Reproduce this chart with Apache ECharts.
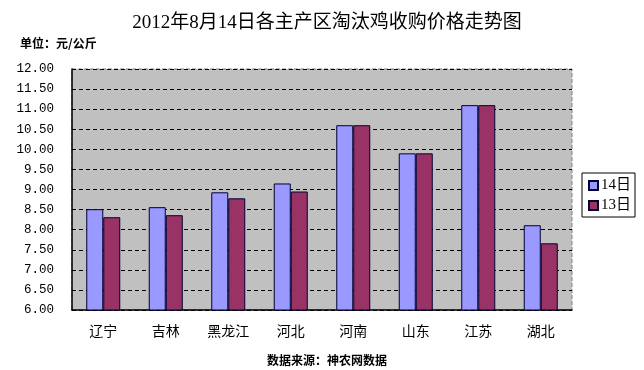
<!DOCTYPE html>
<html>
<head>
<meta charset="utf-8">
<script src="https://cdn.jsdelivr.net/npm/echarts@6/dist/echarts.min.js"></script>
<style>
html,body{margin:0;padding:0;background:#fff;}
#c{width:644px;height:370px;}
</style>
</head>
<body>
<div id="c"></div>
<script>
var categories = ['辽宁','吉林','黑龙江','河北','河南','山东','江苏','湖北'];
var seriesNames = ['14日','13日'];
var values14 = [8.51, 8.56, 8.93, 9.15, 10.60, 9.90, 11.10, 8.11];
var values13 = [8.31, 8.36, 8.78, 8.95, 10.60, 9.90, 11.10, 7.66];
var titleText = '2012年8月14日各主产区淘汰鸡收购价格走势图';
var unitText = '单位：元/公斤';
var sourceText = '数据来源：神农网数据';

var chart = echarts.init(document.getElementById('c'), null, {renderer:'canvas'});
var cjk = '"Noto Sans CJK SC", sans-serif';
chart.setOption({
  animation: false,
  backgroundColor: '#fff',
  title: [
    {text: titleText, left: 322, textAlign: 'center', top: 9,
     textStyle: {fontSize: 19, fontWeight: 'normal', color: '#000',
       fontFamily: '"Liberation Serif", "Noto Sans CJK SC", serif'}},
    {text: unitText, left: 15, top: 32,
     textStyle: {fontSize: 12, fontWeight: 'bold', color: '#000', fontFamily: cjk}},
    {text: sourceText, left: 322, textAlign: 'center', top: 349,
     textStyle: {fontSize: 12, fontWeight: 'bold', color: '#000', fontFamily: cjk}}
  ],
  legend: {
    orient: 'vertical',
    left: 582, top: 173,
    padding: [5, 4, 4, 6],
    itemWidth: 9, itemHeight: 9, itemGap: 5,
    borderColor: '#000', borderWidth: 1, borderRadius: 0,
    icon: 'rect',
    textStyle: {fontSize: 15, color: '#000', padding: [0,0,0,-2], fontFamily: '"Liberation Serif", "Noto Sans CJK SC", serif'},
    data: seriesNames
  },
  grid: {
    left: 72, right: 72, top: 69, bottom: 60,
    show: true, backgroundColor: '#c0c0c0',
    borderColor: '#808080', borderWidth: 1, borderType: 'dashed'
  },
  xAxis: {
    type: 'category',
    data: categories,
    axisLine: {lineStyle: {color: '#000', width: 1.5}},
    axisTick: {inside: true, length: 4, lineStyle: {color: '#000'}},
    axisLabel: {color: '#000', fontSize: 14, margin: 14, fontFamily: cjk}
  },
  yAxis: {
    type: 'value',
    min: 6, max: 12, interval: 0.5,
    axisLine: {show: true, lineStyle: {color: '#000', width: 1.5}},
    axisTick: {show: false},
    axisLabel: {color: '#000', fontSize: 12.5, margin: 18,
      fontFamily: '"Liberation Mono", monospace',
      formatter: function(v){return v.toFixed(2);}},
    splitLine: {show: true, lineStyle: {color: '#000', type: [4, 3], width: 1}}
  },
  series: [
    {name: seriesNames[0], type: 'bar', data: values14, barWidth: 17, barGap: '0%',
     itemStyle: {color: '#9999ff', borderColor: '#000033', borderWidth: 1}},
    {name: seriesNames[1], type: 'bar', data: values13, barWidth: 17, barGap: '0%',
     itemStyle: {color: '#993366', borderColor: '#000033', borderWidth: 1}}
  ]
});
</script>
</body>
</html>
